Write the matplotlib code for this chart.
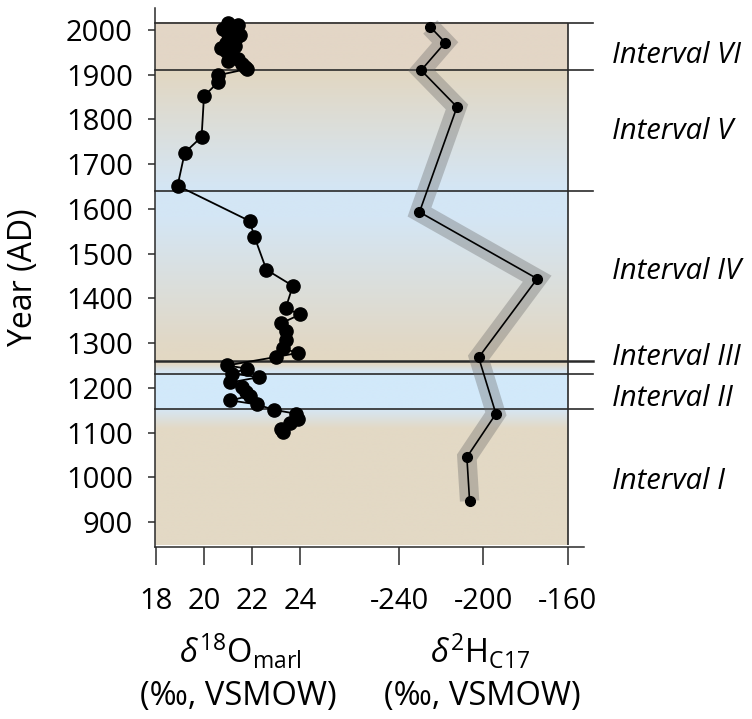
import numpy as np
import matplotlib
matplotlib.use("Agg")
import matplotlib.pyplot as plt
from matplotlib.colors import to_rgb

plt.rcParams['font.family'] = ['Open Sans', 'DejaVu Sans']
plt.rcParams['mathtext.fontset'] = 'custom'
plt.rcParams['mathtext.rm'] = 'Open Sans'
plt.rcParams['mathtext.it'] = 'Open Sans:italic'

# d18O of marl (per mil VSMOW), read from top to bottom
o18_year = [2015, 2012, 2007, 2002, 1997, 1992, 1988, 1983, 1977, 1971, 1965,
            1959, 1954, 1948, 1942, 1936, 1931, 1924, 1917, 1913,
            1899, 1884, 1852, 1761, 1726, 1652,
            1573, 1538, 1464, 1428, 1378, 1364, 1344, 1327, 1308, 1288, 1278, 1269,
            1250, 1243, 1232, 1224, 1212, 1201, 1191, 1182, 1172, 1163, 1151,
            1142, 1131, 1121, 1109, 1101]
o18_val = [21.0, 21.4, 21.2, 20.8, 21.3, 21.0, 21.5, 21.2, 21.3, 20.9, 21.3,
           20.7, 20.9, 21.1, 21.2, 21.4, 21.0, 21.6, 21.7, 21.8,
           20.6, 20.6, 20.0, 19.9, 19.2, 18.9,
           21.9, 22.1, 22.6, 23.7, 23.4, 24.0, 23.2, 23.4, 23.4, 23.3, 23.9, 23.0,
           20.95, 21.8, 21.15, 22.3, 21.1, 21.6, 21.75, 21.9, 21.1, 22.2, 22.9,
           23.85, 23.9, 23.6, 23.2, 23.3]

# d2H of C17 n-alkane (per mil VSMOW)
h2_year = [2007, 1972, 1910, 1828, 1593, 1444, 1268, 1142, 1045, 947]
h2_val = [-225.2, -218.1, -229.5, -212.5, -230.3, -174.4, -202.2, -194.0, -207.8, -206.5]

boundaries = [2016, 1910, 1641, 1260, 1230, 1152]
interval_names = ['Interval VI', 'Interval V', 'Interval IV',
                  'Interval III', 'Interval II', 'Interval I']
label_years = [1944, 1774, 1461, 1267, 1177, 990]

# background shading (tan = dry, blue = wet)
bg_years = [848, 1108, 1150, 1153, 1229, 1236, 1252, 1262, 1300, 1580, 1641, 1660, 1905, 1911, 2016]
bg_colors = ['#e3d9c5', '#e3d9c5', '#d6e6f3', '#d2e9fa', '#d2e9fa', '#d6e5f1', '#e2d8c4', '#e3d8c3',
             '#e1d8c6', '#d4e6f5', '#d3e6f5', '#d5e5f2', '#e2d7c2', '#e3d6c6', '#e3d6c6']

fig = plt.figure(figsize=(7.52, 7.19), dpi=100)
ax = fig.add_axes([155 / 752, 1 - 547 / 719, 438 / 752, 539 / 719])

h_left, h_right = -355.9, -147.9
y_bot, y_top = 844.2, 2049.2

# gradient background
grid = np.linspace(848, 2016, 800)
rgb = np.array([to_rgb(c) for c in bg_colors])
img = np.stack([np.interp(grid, bg_years, rgb[:, i]) for i in range(3)], axis=-1)[:, None, :]
ax.imshow(img, origin='lower', aspect='auto', extent=[h_left, -160, 848, 2016],
          interpolation='bilinear', zorder=0)

for b in boundaries:
    ax.axhline(b, color='#2a2a2a', lw=1.8 if b == 1260 else 1.2, zorder=1, clip_on=False)
ax.vlines(-160, 848, 2016, color='#2a2a2a', lw=1.2, zorder=1)

# d2H series with grey envelope
ax.plot(h2_val, h2_year, color='0.4', alpha=0.35, lw=14, solid_capstyle='butt',
        solid_joinstyle='miter', zorder=2)
ax.plot(h2_val, h2_year, color='k', lw=1.2, marker='o', ms=7, zorder=3)

ax.set_xlim(h_left, h_right)
ax.set_ylim(y_bot, y_top)
ax.set_yticks(range(900, 2001, 100))
ax.set_xticks([-240, -200, -160])
ax.set_xticklabels(['-240', '-200', '-160'])
for s in ['top', 'right']:
    ax.spines[s].set_visible(False)
ax.spines['bottom'].set_bounds(h_left, -152.2)
for s in ['left', 'bottom']:
    ax.spines[s].set_color('#2a2a2a')
    ax.spines[s].set_linewidth(1.1)
ax.tick_params(axis='y', length=5, width=1.1, color='#2a2a2a', pad=11, labelsize=21)
ax.tick_params(axis='x', length=13, width=1.1, color='#2a2a2a', pad=16, labelsize=21)
ax.set_ylabel('Year (AD)', fontsize=23)
ax.yaxis.set_label_coords(-0.262, 0.5)

# d18O series on an overlaid x axis
ax_o = ax.twiny()
ax_o.xaxis.set_ticks_position('bottom')
ax_o.xaxis.set_label_position('bottom')
for s in ax_o.spines.values():
    s.set_visible(False)
ax_o.plot(o18_val, o18_year, color='k', lw=1.3, marker='o', ms=9.5, zorder=4)
ax_o.set_xlim(17.96, 36.2)
ax_o.set_xticks([18, 20, 22, 24])
ax_o.tick_params(axis='x', length=13, width=1.1, color='#2a2a2a', pad=16, labelsize=21)

for name, yr in zip(interval_names, label_years):
    ax.text(-138.9, yr, name, fontsize=21, style='italic', va='center', ha='left', clip_on=False)

fig.text(240 / 752, 1 - 652 / 719, r'$\mathit{\delta}^{18}$O$_{\mathrm{marl}}$', fontsize=23.5, ha='center', va='center')
fig.text(238 / 752, 1 - 697 / 719, '(‰, VSMOW)', fontsize=23.5, ha='center', va='center')
fig.text(480 / 752, 1 - 652 / 719, r'$\mathit{\delta}^{2}$H$_{\mathrm{C17}}$', fontsize=23.5, ha='center', va='center')
fig.text(482 / 752, 1 - 697 / 719, '(‰, VSMOW)', fontsize=23.5, ha='center', va='center')

fig.savefig('out.png', dpi=100)
